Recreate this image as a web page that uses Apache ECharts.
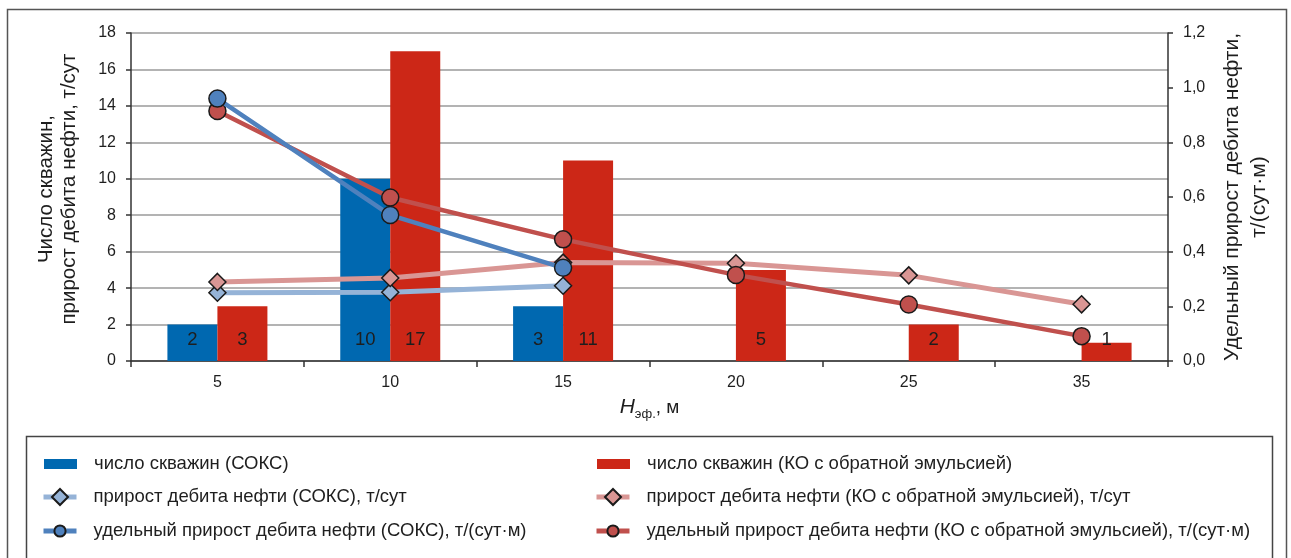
<!DOCTYPE html>
<html><head><meta charset="utf-8">
<script src="https://cdn.jsdelivr.net/npm/echarts@6/dist/echarts.min.js"></script>
<style>html,body{margin:0;padding:0;background:#fff}#c{width:1291px;height:558px}</style>
</head><body><div id="c"></div>
<script>
const categories = ['5','10','15','20','25','35'];
const wellsSoks = [2, 10, 3, null, null, null];
const wellsKo = [3, 17, 11, 5, 2, 1];
const gainSoks = [3.75, 3.77, 4.13, null, null, null];
const gainKo = [4.34, 4.56, 5.40, 5.36, 4.70, 3.11];
const specSoks = [0.96, 0.534, 0.341, null, null, null];
const specKo = [0.915, 0.598, 0.445, 0.315, 0.207, 0.091];
const rightTicks = ['0,0','0,2','0,4','0,6','0,8','1,0','1,2'];

const FONT = "'Liberation Sans',Arial,sans-serif";
const TXT = '#1e1e1e';
const N = {
  wS: 'число скважин (СОКС)',
  wK: 'число скважин (КО с обратной эмульсией)',
  gS: 'прирост дебита нефти (СОКС), т/сут',
  gK: 'прирост дебита нефти (КО с обратной эмульсией), т/сут',
  sS: 'удельный прирост дебита нефти (СОКС), т/(сут·м)',
  sK: 'удельный прирост дебита нефти (КО с обратной эмульсией), т/(сут·м)'
};
const chart = echarts.init(document.getElementById('c'));
const barLabel = {show:true, position:'insideBottom', distance:12, color:TXT, fontSize:18.5, fontFamily:FONT};
function lg(name, left, cy, kind){
  const ih = kind === 'bar' ? 10 : (kind === 'diamond' ? 20 : 14);
  const o = {orient:'vertical', left:kind === 'bar' ? left : left - 3, top:cy-10, padding:0, itemWidth:33, itemHeight:ih,
    data:[name],
    textStyle:{fontFamily:FONT, fontSize:18.5, lineHeight:20, color:TXT, padding:[0,0,0,12]},
    lineStyle:{width:5}};
  if (kind === 'bar') o.icon = 'rect';
  return o;
}
chart.setOption({
  animation:false,
  textStyle:{fontFamily:FONT},
  grid:{left:131, right:123, top:33, bottom:197, outerBoundsMode:'none', containLabel:false},
  graphic:[
    {type:'rect', shape:{x:7.5, y:9.5, width:1279, height:700}, style:{fill:'none', stroke:'#555', lineWidth:1.5}, silent:true},
    {type:'rect', shape:{x:26.5, y:436.5, width:1246, height:300}, style:{fill:'none', stroke:'#444', lineWidth:1.5}, silent:true}
  ],
  legend:[
    lg(N.wS, 44, 464, 'bar'), lg(N.gS, 44, 497, 'diamond'), lg(N.sS, 44, 531, 'circle'),
    lg(N.wK, 597, 464, 'bar'), lg(N.gK, 597, 497, 'diamond'), lg(N.sK, 597, 531, 'circle')
  ],
  xAxis:{type:'category', data:categories, boundaryGap:true,
    name:'{i|H}{s|эф.}{n|, м}', nameLocation:'middle', nameGap:33,
    nameTextStyle:{rich:{i:{fontStyle:'italic', fontSize:21, fontFamily:FONT, color:TXT},
      s:{fontSize:13, fontFamily:FONT, color:TXT, verticalAlign:'bottom', padding:[14,0,0,0]},
      n:{fontSize:19, fontFamily:FONT, color:TXT}}},
    axisLine:{lineStyle:{color:'#333', width:1.5}},
    axisTick:{show:true, length:6, lineStyle:{color:'#333', width:1.5}},
    axisLabel:{fontSize:16, color:TXT, margin:14, fontFamily:FONT}
  },
  yAxis:[
    {type:'value', min:0, max:18, interval:2, position:'left',
      name:'Число скважин,\nприрост дебита нефти, т/сут', nameLocation:'middle', nameRotate:90, nameGap:50,
      nameTextStyle:{fontSize:20.5, color:TXT, lineHeight:23, fontFamily:FONT, padding:[0,0,0,16]},
      axisLine:{show:true, lineStyle:{color:'#333', width:1.5}},
      axisTick:{show:true, length:5, lineStyle:{color:'#333', width:1.5}},
      axisLabel:{fontSize:16, color:TXT, margin:15, fontFamily:FONT},
      splitLine:{lineStyle:{color:'#9a9a9a', width:1.5}}
    },
    {type:'value', min:0, max:1.2, interval:0.2, position:'right',
      name:'Удельный прирост дебита нефти,\nт/(сут·м)', nameLocation:'middle', nameRotate:90, nameGap:51,
      nameTextStyle:{fontSize:21, color:TXT, lineHeight:27, fontFamily:FONT},
      axisLine:{show:true, lineStyle:{color:'#333', width:1.5}},
      axisTick:{show:true, length:5, lineStyle:{color:'#333', width:1.5}},
      axisLabel:{fontSize:16, color:TXT, margin:15, fontFamily:FONT,
        formatter:(v)=>rightTicks[Math.round(v/0.2)]},
      splitLine:{show:false}
    }
  ],
  series:[
    {name:N.wS, type:'bar', data:wellsSoks, barWidth:50, barGap:'0%', itemStyle:{color:'#0068B0'}, label:barLabel, z:1},
    {name:N.wK, type:'bar', data:wellsKo, barWidth:50, barGap:'0%', itemStyle:{color:'#CC2717'}, label:barLabel, z:1},
    {name:N.gS, type:'line', data:gainSoks, yAxisIndex:0, symbol:'diamond', symbolSize:17,
      lineStyle:{color:'#95B3D7', width:5}, itemStyle:{color:'#95B3D7', borderColor:'#1a1a1a', borderWidth:1.5}, z:3},
    {name:N.gK, type:'line', data:gainKo, yAxisIndex:0, symbol:'diamond', symbolSize:17,
      lineStyle:{color:'#D99694', width:5}, itemStyle:{color:'#D99694', borderColor:'#1a1a1a', borderWidth:1.5}, z:3},
    {name:N.sK, type:'line', data:specKo, yAxisIndex:1, symbol:'circle', symbolSize:17,
      lineStyle:{color:'#C0504D', width:4.5}, itemStyle:{color:'#C0504D', borderColor:'#1a1a1a', borderWidth:1.5}, z:4},
    {name:N.sS, type:'line', data:specSoks, yAxisIndex:1, symbol:'circle', symbolSize:17,
      lineStyle:{color:'#4F81BD', width:4.5}, itemStyle:{color:'#4F81BD', borderColor:'#1a1a1a', borderWidth:1.5}, z:5}
  ]
});
</script></body></html>
